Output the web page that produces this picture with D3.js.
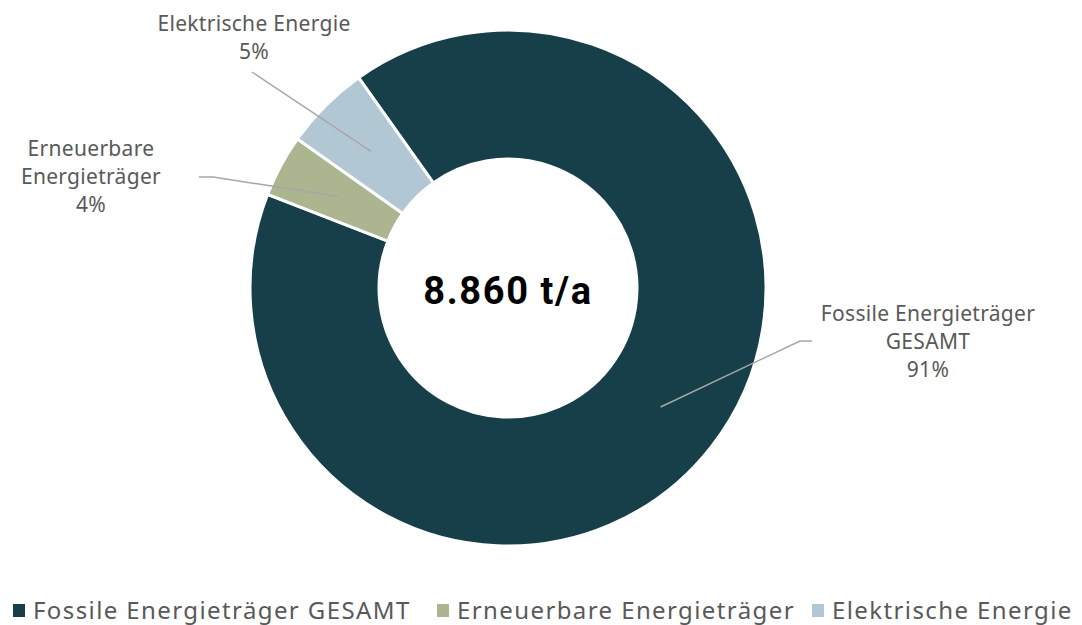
<!DOCTYPE html>
<html>
<head>
<meta charset="utf-8">
<script src="https://cdn.jsdelivr.net/npm/d3@7"></script>
<style>
  body { margin: 0; background: #fff; }
  svg { display: block; }
</style>
</head>
<body>
<svg id="chart"></svg>
<script>
const categories = ['Fossile Energieträger GESAMT', 'Erneuerbare Energieträger', 'Elektrische Energie']
const values = [8040, 345, 475]
const labelLines = [['Fossile Energieträger', 'GESAMT'], ['Erneuerbare', 'Energieträger'], ['Elektrische Energie']]
const totalLabel = '8.860 t/a'
const colors = ['#163f49', '#abb58f', '#b1c7d3']

const width = 1082, height = 625
const cx = 508, cy = 288
const outerR = 258, innerR = 129

const svg = d3.select('#chart')
    .attr('width', width)
    .attr('height', height)

const chart = svg.append('g')
    .attr('transform', `translate(${cx}, ${cy})`)

const startA = -35.4 * Math.PI / 180
const pie = d3.pie()
    .sort(null)
    .value(d => d.value)
    .startAngle(startA)
    .endAngle(startA + 2 * Math.PI)

const arc = d3.arc()
    .innerRadius(innerR)
    .outerRadius(outerR)

const rows = categories.map((c, i) => ({ name: c, value: values[i], lines: labelLines[i], color: colors[i] }))
const total = d3.sum(values)
const arcs = pie(rows)

chart.selectAll('.slice')
    .data(arcs)
    .join('path')
        .attr('class', 'slice')
        .attr('d', arc)
        .attr('fill', d => d.data.color)
        .attr('stroke', '#fff')
        .attr('stroke-width', 3)
        .attr('stroke-linejoin', 'miter')

// label layout: text center x, first baseline y, leader bend points (page coords)
const labelPos = [
    { x: 928, y: 321, pts: [[812, 341], [800, 341]] },
    { x: 91, y: 156, pts: [[199, 177], [213, 177]] },
    { x: 254, y: 31, pts: [[252, 72]] }
]

arcs.forEach((d, i) => {
    const c = arc.centroid(d)
    const lp = labelPos[i]
    const pts = lp.pts.map(p => [p[0] - cx, p[1] - cy]).concat([c])
    chart.append('path')
        .attr('d', d3.line()(pts))
        .attr('fill', 'none')
        .attr('stroke', '#a6a6a6')
        .attr('stroke-width', 1.5)

    const t = svg.append('text')
        .attr('x', lp.x)
        .attr('y', lp.y)
        .attr('text-anchor', 'middle')
        .attr('fill', '#595959')
        .style('font-family', '"Noto Sans", "Open Sans", sans-serif')
        .style('font-size', '21px')
        .style('letter-spacing', '0.3px')
    const lines = d.data.lines.concat([d3.format('.0%')(d.data.value / total)])
    lines.forEach((l, j) => {
        t.append('tspan')
            .attr('x', lp.x)
            .attr('dy', j === 0 ? 0 : 28)
            .text(l)
    })
})

svg.append('text')
    .attr('x', cx)
    .attr('y', cy + 16)
    .attr('text-anchor', 'middle')
    .attr('fill', '#000')
    .style('font-family', 'Roboto, "Liberation Sans", sans-serif')
    .style('font-weight', 'bold')
    .style('font-size', '38px')
    .style('letter-spacing', '1.6px')
    .text(totalLabel)

// legend
const legendX = [13, 437, 812]
const legend = svg.append('g').attr('class', 'legend')
rows.forEach((r, i) => {
    legend.append('rect')
        .attr('x', legendX[i])
        .attr('y', 604)
        .attr('width', 12)
        .attr('height', 13)
        .attr('fill', r.color)
    legend.append('text')
        .attr('x', legendX[i] + 20)
        .attr('y', 619)
        .attr('fill', '#595959')
        .style('font-family', '"Noto Sans", "Open Sans", sans-serif')
        .style('font-size', '24px')
        .style('letter-spacing', '1.4px')
        .text(r.name)
})
</script>
</body>
</html>
